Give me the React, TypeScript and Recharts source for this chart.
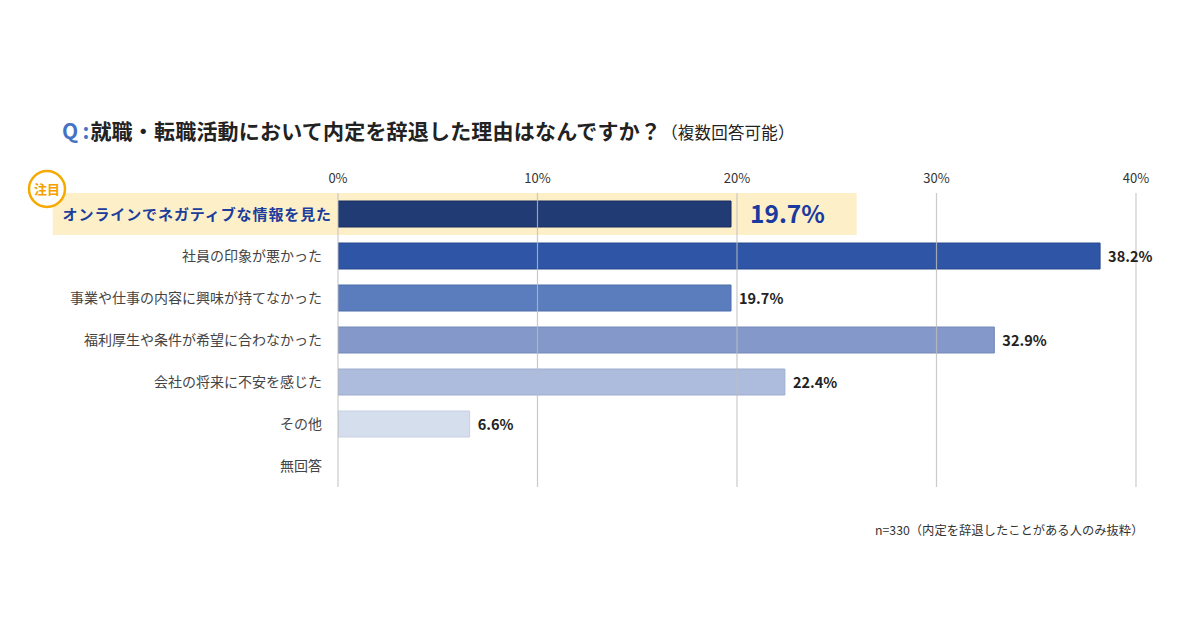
import React from "react";
import {
  BarChart,
  Bar,
  XAxis,
  YAxis,
  Cell,
  LabelList,
  ReferenceArea,
  ReferenceLine,
} from "recharts";

// 就職・転職活動で内定を辞退した理由 (n=330)
const reasons = [
  "オンラインでネガティブな情報を見た",
  "社員の印象が悪かった",
  "事業や仕事の内容に興味が持てなかった",
  "福利厚生や条件が希望に合わなかった",
  "会社の将来に不安を感じた",
  "その他",
  "無回答",
];
const shares: (number | null)[] = [19.7, 38.2, 19.7, 32.9, 22.4, 6.6, null];
const percentTicks = [0, 10, 20, 30, 40];
const barColors = ["#213b74", "#2f56a6", "#5b7dbd", "#8499c9", "#adbcdc", "#d5deed", "#d5deed"];
const barEdges = ["#172c5c", "#26488f", "#4d6eac", "#7489ba", "#9dadcf", "#c6d0e2", "#c6d0e2"];

const rows = reasons.map((reason, i) => ({ reason, share: shares[i] }));

const FONT = "'Noto Sans CJK JP', 'Noto Sans', sans-serif";
const HIGHLIGHT = "#fdf0c9";

function PercentTick(props: any) {
  const { x, y, payload } = props;
  return (
    <text x={x} y={y} dy={-2} textAnchor="middle" fontSize={13} fill="#333" fontFamily={FONT}>
      {payload.value}%
    </text>
  );
}

function ReasonTick(props: any) {
  const { x, y, payload, index } = props;
  if (index === 0) {
    return (
      <g>
        <circle cx={47} cy={y - 25} r={18} fill="#fff" stroke="#f6a900" strokeWidth={2.5} />
        <text x={47} y={y - 25} dy={4.5} textAnchor="middle" fontSize={13} fontWeight={700} fill="#f6a000" fontFamily={FONT}>
          注目
        </text>
        <text x={x + 2} y={y} dy={5.5} textAnchor="end" fontSize={15} fontWeight={700} letterSpacing={0.9} fill="#1b3d9c" fontFamily={FONT}>
          {payload.value}
        </text>
      </g>
    );
  }
  return (
    <text x={x - 8} y={y} dy={5} textAnchor="end" fontSize={14} fill="#444" fontFamily={FONT}>
      {payload.value}
    </text>
  );
}

function ShareLabel(props: any) {
  const { x, y, width, height, value, index } = props;
  if (value == null) return null;
  const cy = y + height / 2;
  if (index === 0) {
    return (
      <text x={x + width + 19} y={cy} dy={8.5} fontSize={24.5} fontWeight={700} fill="#1b3aa0" fontFamily={FONT}>
        {value}%
      </text>
    );
  }
  return (
    <text x={x + width + 8} y={cy} dy={5.5} fontSize={14.5} fontWeight={700} fill="#222" fontFamily={FONT}>
      {value}%
    </text>
  );
}

export default function App() {
  return (
    <div
      style={{
        position: "absolute",
        left: 0,
        top: 0,
        width: 1200,
        height: 630,
        background: "#fff",
        fontFamily: FONT,
      }}
    >
      <div
        style={{
          position: "absolute",
          left: 62,
          top: 115,
          fontSize: 21,
          fontWeight: 700,
          color: "#222",
          whiteSpace: "nowrap",
          lineHeight: "30px",
          letterSpacing: 0.2,
        }}
      >
        <span style={{ color: "#4472c4" }}>Q</span>
        <span style={{ color: "#4472c4", margin: "0 1px 0 4px" }}>:</span>
        就職・転職活動において内定を辞退した理由はなんですか？
        <span style={{ fontSize: 16.5, fontWeight: 400 }}>（複数回答可能）</span>
      </div>

      <BarChart
        width={1200}
        height={630}
        data={rows}
        layout="vertical"
        margin={{ top: 163, right: 64, bottom: 143, left: 0 }}
        barCategoryGap={8}
        style={{ position: "absolute", left: 0, top: 0 }}
      >
        <XAxis
          type="number"
          orientation="top"
          domain={[0, 40]}
          ticks={percentTicks}
          axisLine={false}
          tickLine={false}
          height={30}
          tick={<PercentTick />}
          allowDataOverflow
        />
        <YAxis
          type="category"
          dataKey="reason"
          width={338}
          axisLine={false}
          tickLine={false}
          tick={<ReasonTick />}
          interval={0}
        />
        <ReferenceArea
          x1={-14.3}
          x2={26}
          y1={reasons[0]}
          y2={reasons[0]}
          fill={HIGHLIGHT}
          fillOpacity={1}
          stroke="none"
          ifOverflow="visible"
        />
        <Bar dataKey="share" barSize={26} isAnimationActive={false}>
          {rows.map((r, i) => (
            <Cell key={r.reason} fill={barColors[i]} stroke={barEdges[i]} strokeWidth={1} />
          ))}
          <LabelList dataKey="share" content={<ShareLabel />} />
        </Bar>
        {percentTicks.map((t) => (
          <ReferenceLine key={t} x={t} stroke="#bdbdbd" strokeOpacity={0.8} strokeWidth={1.2} />
        ))}
      </BarChart>

      <div
        style={{
          position: "absolute",
          left: 875,
          top: 521,
          fontSize: 12.3,
          color: "#333",
          whiteSpace: "nowrap",
        }}
      >
        n=330（内定を辞退したことがある人のみ抜粋）
      </div>
    </div>
  );
}
